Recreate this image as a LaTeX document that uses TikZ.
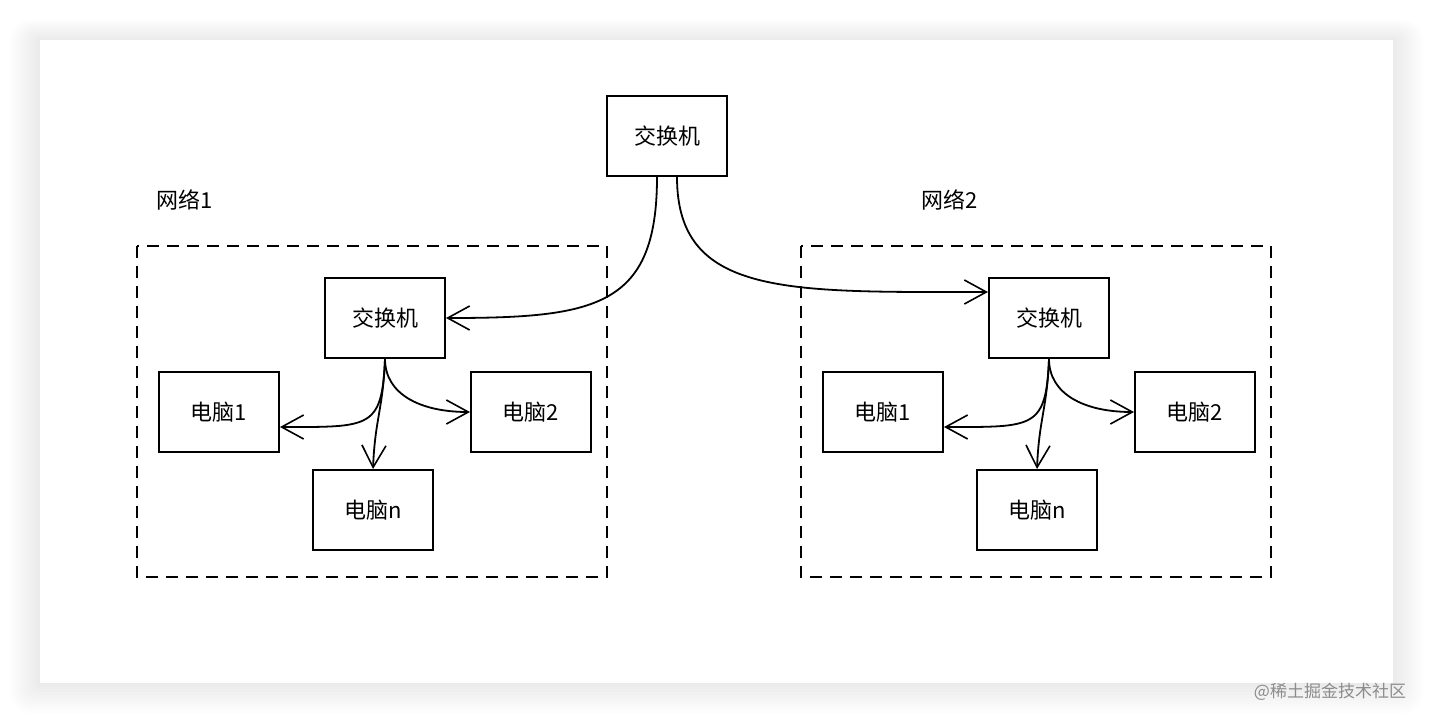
\documentclass[tikz,border=0pt]{standalone}
\usepackage{fontspec}
\setmainfont{Noto Sans CJK SC}
\usetikzlibrary{arrows.meta}
\begin{document}
\begin{tikzpicture}[x=0.5pt,y=-0.5pt,
  box/.style={draw,line width=1pt,minimum width=60pt,minimum height=40pt,inner sep=0pt,font=\fontsize{11pt}{12pt}\selectfont},
  netbox/.style={draw,line width=0.9pt,dash pattern=on 6pt off 4pt},
  lbl/.style={font=\fontsize{11pt}{12pt}\selectfont},
  conn/.style={line width=0.9pt,-{Straight Barb[length=11pt,width=12pt,line width=0.8pt]}}]
\useasboundingbox (0,0) rectangle (1434,724);
\fill[white] (0,0) rectangle (1434,724);
% card shadow
\foreach \i in {1,...,10}{
  \fill[black,opacity=0.007,rounded corners=\i pt] (40-3*\i,40-2*\i) rectangle (1393+3*\i,683+3*\i);
}
\fill[white] (40,40) rectangle (1393,683);
% network frames
\draw[netbox] (137,246) rectangle (607,577);
\draw[netbox] (801,246) rectangle (1271,577);
\node[lbl] (L1) at (185,200) {网络1};
\node[lbl] (L2) at (950,200) {网络2};
% nodes
\node[box] (T) at (667,136) {交换机};
\node[box] (S1) at (385,318) {交换机};
\node[box] (A1) at (219,412) {电脑1};
\node[box] (A2) at (531,412) {电脑2};
\node[box] (An) at (373,510) {电脑n};
\node[box] (S2) at (1049,318) {交换机};
\node[box] (B1) at (883,412) {电脑1};
\node[box] (B2) at (1195,412) {电脑2};
\node[box] (Bn) at (1037,510) {电脑n};
% top connectors
\draw[conn] ([xshift=-5pt]T.south) .. controls +(0,130) and +(150,0) .. (S1.east);
\draw[conn] ([xshift=5pt]T.south) .. controls +(0,120) and +(-200,0) .. ([yshift=-7.5pt]S2.north west);
% network 1 internal
\draw[conn] (S1.south) .. controls +(-3,70) and +(90,0) .. ([yshift=-7.5pt]A1.east);
\draw[conn] (S1.south) .. controls +(0,35) and +(-50,0) .. (A2.west);
\draw[conn] (S1.south) .. controls +(-2,50) and +(2,-50) .. (An.north);
% network 2 internal
\draw[conn] (S2.south) .. controls +(-3,70) and +(90,0) .. ([yshift=-7.5pt]B1.east);
\draw[conn] (S2.south) .. controls +(0,35) and +(-50,0) .. (B2.west);
\draw[conn] (S2.south) .. controls +(-2,50) and +(2,-50) .. (Bn.north);
% watermark
\node[text=black!45,font=\fontsize{8.5pt}{10pt}\selectfont] (W) at (1330,692) {@稀土掘金技术社区};
\end{tikzpicture}
\end{document}
